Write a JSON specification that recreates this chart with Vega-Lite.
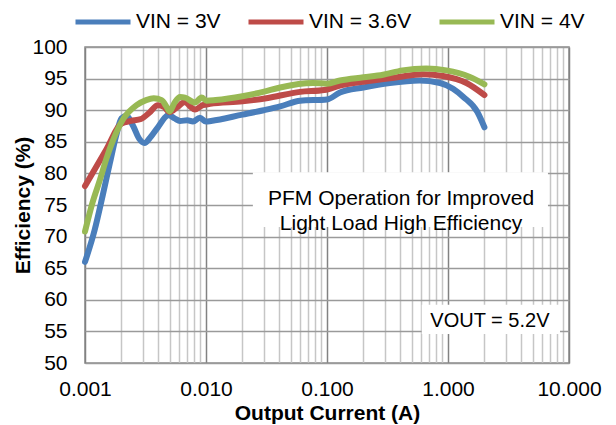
{
  "$schema": "https://vega.github.io/schema/vega-lite/v6.json",
  "width": 484,
  "height": 316,
  "autosize": {"type": "none"},
  "padding": {"left": 85, "top": 47, "right": 47, "bottom": 62},
  "background": "white",
  "config": {
    "font": "Liberation Sans",
    "view": {"stroke": "#8c8c8c", "strokeWidth": 1.5},
    "legend": {
      "orient": "none",
      "legendX": -12,
      "legendY": -55,
      "direction": "horizontal",
      "symbolType": "stroke",
      "symbolStrokeWidth": 5,
      "symbolSize": 3025,
      "labelFontSize": 21,
      "labelColor": "#000000",
      "labelOffset": 3,
      "columnPadding": 17,
      "title": null
    }
  },
  "datasets": {
    "eff": [
      {"vin": "VIN = 3V", "current": 0.001, "eff": 66.0},
      {"vin": "VIN = 3V", "current": 0.0012, "eff": 71.0},
      {"vin": "VIN = 3V", "current": 0.0014, "eff": 76.5},
      {"vin": "VIN = 3V", "current": 0.0016, "eff": 81.5},
      {"vin": "VIN = 3V", "current": 0.0018, "eff": 85.8},
      {"vin": "VIN = 3V", "current": 0.002, "eff": 88.7},
      {"vin": "VIN = 3V", "current": 0.0022, "eff": 89.1},
      {"vin": "VIN = 3V", "current": 0.0025, "eff": 87.5},
      {"vin": "VIN = 3V", "current": 0.0028, "eff": 85.5},
      {"vin": "VIN = 3V", "current": 0.0031, "eff": 84.8},
      {"vin": "VIN = 3V", "current": 0.0035, "eff": 85.8},
      {"vin": "VIN = 3V", "current": 0.004, "eff": 87.3},
      {"vin": "VIN = 3V", "current": 0.0049, "eff": 89.2},
      {"vin": "VIN = 3V", "current": 0.0055, "eff": 88.7},
      {"vin": "VIN = 3V", "current": 0.0061, "eff": 88.3},
      {"vin": "VIN = 3V", "current": 0.007, "eff": 88.4},
      {"vin": "VIN = 3V", "current": 0.0078, "eff": 88.2},
      {"vin": "VIN = 3V", "current": 0.0089, "eff": 88.8},
      {"vin": "VIN = 3V", "current": 0.01, "eff": 88.2},
      {"vin": "VIN = 3V", "current": 0.011, "eff": 88.3},
      {"vin": "VIN = 3V", "current": 0.02, "eff": 89.3},
      {"vin": "VIN = 3V", "current": 0.03, "eff": 90.0},
      {"vin": "VIN = 3V", "current": 0.041, "eff": 90.6},
      {"vin": "VIN = 3V", "current": 0.06, "eff": 91.5},
      {"vin": "VIN = 3V", "current": 0.1, "eff": 91.7},
      {"vin": "VIN = 3V", "current": 0.128, "eff": 92.8},
      {"vin": "VIN = 3V", "current": 0.2, "eff": 93.6},
      {"vin": "VIN = 3V", "current": 0.33, "eff": 94.3},
      {"vin": "VIN = 3V", "current": 0.58, "eff": 94.7},
      {"vin": "VIN = 3V", "current": 0.86, "eff": 94.3},
      {"vin": "VIN = 3V", "current": 1.1, "eff": 93.4},
      {"vin": "VIN = 3V", "current": 1.34, "eff": 92.1},
      {"vin": "VIN = 3V", "current": 1.74, "eff": 89.8},
      {"vin": "VIN = 3V", "current": 2.0, "eff": 87.3},
      {"vin": "VIN = 3.6V", "current": 0.001, "eff": 78.0},
      {"vin": "VIN = 3.6V", "current": 0.0015, "eff": 83.8},
      {"vin": "VIN = 3.6V", "current": 0.002, "eff": 87.9},
      {"vin": "VIN = 3.6V", "current": 0.0024, "eff": 88.3},
      {"vin": "VIN = 3.6V", "current": 0.0029, "eff": 88.6},
      {"vin": "VIN = 3.6V", "current": 0.0034, "eff": 89.6},
      {"vin": "VIN = 3.6V", "current": 0.004, "eff": 90.8},
      {"vin": "VIN = 3.6V", "current": 0.0045, "eff": 90.5},
      {"vin": "VIN = 3.6V", "current": 0.005, "eff": 89.7},
      {"vin": "VIN = 3.6V", "current": 0.0058, "eff": 90.5},
      {"vin": "VIN = 3.6V", "current": 0.0067, "eff": 91.3},
      {"vin": "VIN = 3.6V", "current": 0.0075, "eff": 90.5},
      {"vin": "VIN = 3.6V", "current": 0.0081, "eff": 90.1},
      {"vin": "VIN = 3.6V", "current": 0.0094, "eff": 90.8},
      {"vin": "VIN = 3.6V", "current": 0.0108, "eff": 91.0},
      {"vin": "VIN = 3.6V", "current": 0.02, "eff": 91.4},
      {"vin": "VIN = 3.6V", "current": 0.0316, "eff": 91.9},
      {"vin": "VIN = 3.6V", "current": 0.06, "eff": 92.9},
      {"vin": "VIN = 3.6V", "current": 0.095, "eff": 93.2},
      {"vin": "VIN = 3.6V", "current": 0.128, "eff": 93.9},
      {"vin": "VIN = 3.6V", "current": 0.2, "eff": 94.5},
      {"vin": "VIN = 3.6V", "current": 0.38, "eff": 95.2},
      {"vin": "VIN = 3.6V", "current": 0.62, "eff": 95.7},
      {"vin": "VIN = 3.6V", "current": 0.91, "eff": 95.4},
      {"vin": "VIN = 3.6V", "current": 1.42, "eff": 94.3},
      {"vin": "VIN = 3.6V", "current": 2.0, "eff": 92.4},
      {"vin": "VIN = 4V", "current": 0.001, "eff": 70.8},
      {"vin": "VIN = 4V", "current": 0.00115, "eff": 75.3},
      {"vin": "VIN = 4V", "current": 0.00133, "eff": 79.0},
      {"vin": "VIN = 4V", "current": 0.0015, "eff": 82.3},
      {"vin": "VIN = 4V", "current": 0.00171, "eff": 85.3},
      {"vin": "VIN = 4V", "current": 0.00207, "eff": 88.6},
      {"vin": "VIN = 4V", "current": 0.00267, "eff": 90.8},
      {"vin": "VIN = 4V", "current": 0.0032, "eff": 91.6},
      {"vin": "VIN = 4V", "current": 0.0037, "eff": 91.9},
      {"vin": "VIN = 4V", "current": 0.0043, "eff": 91.6},
      {"vin": "VIN = 4V", "current": 0.0047, "eff": 90.6},
      {"vin": "VIN = 4V", "current": 0.005, "eff": 89.8},
      {"vin": "VIN = 4V", "current": 0.0055, "eff": 91.2},
      {"vin": "VIN = 4V", "current": 0.0061, "eff": 92.1},
      {"vin": "VIN = 4V", "current": 0.0067, "eff": 92.0},
      {"vin": "VIN = 4V", "current": 0.0081, "eff": 91.2},
      {"vin": "VIN = 4V", "current": 0.0092, "eff": 92.0},
      {"vin": "VIN = 4V", "current": 0.0101, "eff": 91.5},
      {"vin": "VIN = 4V", "current": 0.012, "eff": 91.6},
      {"vin": "VIN = 4V", "current": 0.02, "eff": 92.2},
      {"vin": "VIN = 4V", "current": 0.0296, "eff": 92.9},
      {"vin": "VIN = 4V", "current": 0.041, "eff": 93.6},
      {"vin": "VIN = 4V", "current": 0.0766, "eff": 94.3},
      {"vin": "VIN = 4V", "current": 0.1, "eff": 94.2},
      {"vin": "VIN = 4V", "current": 0.128, "eff": 94.7},
      {"vin": "VIN = 4V", "current": 0.2, "eff": 95.2},
      {"vin": "VIN = 4V", "current": 0.29, "eff": 95.6},
      {"vin": "VIN = 4V", "current": 0.42, "eff": 96.3},
      {"vin": "VIN = 4V", "current": 0.66, "eff": 96.6},
      {"vin": "VIN = 4V", "current": 0.97, "eff": 96.3},
      {"vin": "VIN = 4V", "current": 1.5, "eff": 95.3},
      {"vin": "VIN = 4V", "current": 2.0, "eff": 94.1}
    ],
    "notes": [
      {"label": "PFM Operation for Improved\nLight Load High Efficiency", "left": 0.0244, "right": 6.7, "bottom": 71.5, "top": 80.2, "tx": 0.409, "ty": 75.9, "size": "big"},
      {"label": "VOUT = 5.2V", "left": 0.607, "right": 8.43, "bottom": 54.6, "top": 59.2, "tx": 2.22, "ty": 56.6, "size": "small"}
    ]
  },
  "resolve": {"axis": {"x": "independent"}},
  "layer": [
    {
      "data": {"name": "notes"},
      "mark": {"type": "rect", "fill": "white", "stroke": null},
      "encoding": {
        "x": {
          "field": "left", "type": "quantitative",
          "scale": {"type": "log", "domain": [0.001, 10], "nice": false},
          "axis": {
            "orient": "bottom",
            "values": [0.002, 0.003, 0.004, 0.005, 0.006, 0.007, 0.008, 0.009,
                       0.02, 0.03, 0.04, 0.05, 0.06, 0.07, 0.08, 0.09,
                       0.2, 0.3, 0.4, 0.5, 0.6, 0.7, 0.8, 0.9,
                       2, 3, 4, 5, 6, 7, 8, 9],
            "labels": false, "ticks": false, "domain": false, "title": null,
            "grid": true, "gridColor": "#c6c6c6", "gridWidth": 1.5
          }
        },
        "x2": {"field": "right"},
        "y": {
          "field": "bottom", "type": "quantitative",
          "scale": {"domain": [50, 100], "nice": false, "zero": false},
          "axis": {
            "values": [50, 55, 60, 65, 70, 75, 80, 85, 90, 95, 100],
            "labelOverlap": false,
            "labelFontSize": 21, "labelColor": "#000000", "labelPadding": 18,
            "ticks": false, "domain": false,
            "grid": true, "gridColor": "#9a9a9a", "gridWidth": 1.5,
            "title": "Efficiency (%)",
            "titleFontSize": 21, "titleFontWeight": "bold", "titleColor": "#000000",
            "titleX": -62, "titleY": 158, "titleBaseline": "middle", "titleAngle": -90
          }
        },
        "y2": {"field": "top"}
      }
    },
    {
      "data": {"name": "eff"},
      "mark": {"type": "line", "strokeWidth": 6, "strokeCap": "round", "strokeJoin": "round", "interpolate": "monotone"},
      "encoding": {
        "x": {
          "field": "current", "type": "quantitative",
          "scale": {"type": "log", "domain": [0.001, 10], "nice": false},
          "axis": {
            "orient": "bottom",
            "values": [0.001, 0.01, 0.1, 1, 10],
            "format": ".3f",
            "labelOverlap": false,
            "labelFontSize": 21, "labelColor": "#000000", "labelPadding": 15,
            "ticks": false, "domain": false,
            "grid": true, "gridColor": "#828282", "gridWidth": 1.5,
            "labelFlush": false,
            "title": "Output Current (A)",
            "titleFontSize": 21, "titleFontWeight": "bold", "titleColor": "#000000",
            "titleY": 50, "titleBaseline": "middle"
          }
        },
        "y": {
          "field": "eff", "type": "quantitative",
          "scale": {"domain": [50, 100], "nice": false, "zero": false},
          "axis": {
            "values": [50, 55, 60, 65, 70, 75, 80, 85, 90, 95, 100],
            "labelOverlap": false,
            "labelFontSize": 21, "labelColor": "#000000", "labelPadding": 18,
            "ticks": false, "domain": false,
            "grid": true, "gridColor": "#9a9a9a", "gridWidth": 1.5,
            "title": "Efficiency (%)",
            "titleFontSize": 21, "titleFontWeight": "bold", "titleColor": "#000000",
            "titleX": -62, "titleY": 158, "titleBaseline": "middle", "titleAngle": -90
          }
        },
        "color": {
          "field": "vin", "type": "nominal",
          "scale": {"domain": ["VIN = 3V", "VIN = 3.6V", "VIN = 4V"], "range": ["#4a7ebb", "#be4b48", "#98b954"]},
          "legend": {}
        }
      }
    },
    {
      "data": {"name": "notes"},
      "mark": {"type": "text", "align": "center", "baseline": "middle", "lineBreak": "\n", "lineHeight": 25, "color": "#000000"},
      "encoding": {
        "x": {"field": "tx", "type": "quantitative", "scale": {"type": "log", "domain": [0.001, 10], "nice": false}, "axis": null},
        "y": {
          "field": "ty", "type": "quantitative",
          "scale": {"domain": [50, 100], "nice": false, "zero": false},
          "axis": {
            "values": [50, 55, 60, 65, 70, 75, 80, 85, 90, 95, 100],
            "labelOverlap": false,
            "labelFontSize": 21, "labelColor": "#000000", "labelPadding": 18,
            "ticks": false, "domain": false,
            "grid": true, "gridColor": "#9a9a9a", "gridWidth": 1.5,
            "title": "Efficiency (%)",
            "titleFontSize": 21, "titleFontWeight": "bold", "titleColor": "#000000",
            "titleX": -62, "titleY": 158, "titleBaseline": "middle", "titleAngle": -90
          }
        },
        "text": {"field": "label"},
        "size": {"field": "size", "type": "nominal", "scale": {"domain": ["big", "small"], "range": [21, 20]}, "legend": null}
      }
    }
  ]
}
